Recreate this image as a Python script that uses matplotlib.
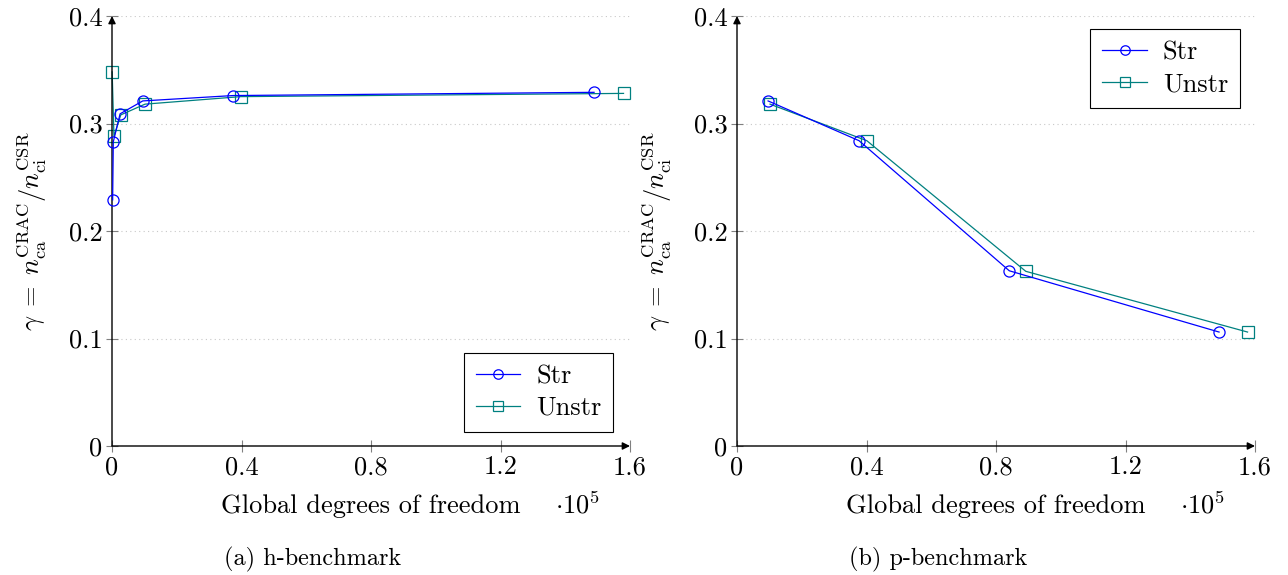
import matplotlib
matplotlib.use("Agg")
import matplotlib.pyplot as plt

plt.rcParams['font.family'] = 'cmr10'
plt.rcParams['mathtext.fontset'] = 'cm'
plt.rcParams['axes.formatter.use_mathtext'] = True

# Data (x in units of 1e5 DOF)
h_str_x = [0.002, 0.004, 0.025, 0.095, 0.374, 1.489]
h_str_y = [0.229, 0.283, 0.309, 0.321, 0.326, 0.329]
h_unstr_x = [0.0005, 0.006, 0.027, 0.102, 0.398, 1.580]
h_unstr_y = [0.348, 0.288, 0.308, 0.318, 0.325, 0.328]

p_str_x = [0.096, 0.377, 0.841, 1.489]
p_str_y = [0.321, 0.284, 0.163, 0.106]
p_unstr_x = [0.102, 0.401, 0.892, 1.577]
p_unstr_y = [0.318, 0.284, 0.1625, 0.106]

xticks = [0, 0.4, 0.8, 1.2, 1.6]
xticklabels = ["0", "0.4", "0.8", "1.2", "1.6"]
yticks = [0, 0.1, 0.2, 0.3, 0.4]
yticklabels = ["0", "0.1", "0.2", "0.3", "0.4"]
series_labels = ["Str", "Unstr"]
captions = ["(a) h-benchmark", "(b) p-benchmark"]

W, H = 1288, 575
FS = 19
fig = plt.figure(figsize=(W / 100, H / 100), dpi=100)

def make_ax(x0px, data, legend_kw, caption):
    ax = fig.add_axes([x0px / W, (H - 446) / H, 518 / W, 430 / H])
    (sx, sy), (ux, uy) = data
    ax.plot(sx, sy, color='#0000ff', lw=0.9, marker='o', ms=8, mfc='none',
            mew=0.9, label=series_labels[0], clip_on=False, zorder=4)
    ax.plot(ux, uy, color='#008080', lw=0.9, marker='s', ms=8, mfc='none',
            mew=0.9, label=series_labels[1], clip_on=False, zorder=3)
    ax.set_xlim(0, 1.6)
    ax.set_ylim(0, 0.4)
    ax.set_xticks(xticks)
    ax.set_xticklabels(xticklabels)
    ax.set_yticks(yticks)
    ax.set_yticklabels(yticklabels)
    for s in ax.spines.values():
        s.set_visible(False)
    ax.tick_params(direction='inout', length=8, width=0.8, color='#808080',
                   labelsize=FS, pad=3)
    ax.yaxis.grid(True, linestyle=(0, (1, 3)), color='#c8c8c8', lw=0.8)
    ax.set_axisbelow(True)
    for end in [(1, 0), (0, 1)]:
        ax.annotate('', xy=end, xytext=(0, 0), xycoords='axes fraction',
                    arrowprops=dict(arrowstyle='-|>', color='black', lw=1.0,
                                    mutation_scale=11, shrinkA=0, shrinkB=0),
                    annotation_clip=False)
    ax.set_xlabel('Global degrees of freedom', fontsize=FS, labelpad=11)
    ax.set_ylabel(r'$\gamma\;=\;n_{\mathrm{ca}}^{\mathrm{CRAC}}/n_{\mathrm{ci}}^{\mathrm{CSR}}$',
                  fontsize=FS, labelpad=14)
    ax.text((555 - 112) / 518, -(505 - 446) / 430, r'$\cdot 10^5$',
            transform=ax.transAxes, fontsize=FS, ha='left', va='center')
    leg = ax.legend(fontsize=FS, frameon=True, fancybox=False, edgecolor='black',
                    framealpha=1, handlelength=1.7, borderpad=0.45,
                    labelspacing=0.3, handletextpad=0.6, borderaxespad=0,
                    markerscale=0.85, **legend_kw)
    leg.get_frame().set_linewidth(0.8)
    fig.text((x0px + 201) / W, 1 - 559 / H, caption, fontsize=17.5,
             ha='center', va='center')
    return ax

make_ax(112, ((h_str_x, h_str_y), (h_unstr_x, h_unstr_y)),
        dict(loc='lower right', bbox_to_anchor=(0.968, 0.033)), captions[0])
make_ax(737, ((p_str_x, p_str_y), (p_unstr_x, p_unstr_y)),
        dict(loc='upper right', bbox_to_anchor=(0.971, 0.970)), captions[1])

fig.savefig('out.png', dpi=100)
